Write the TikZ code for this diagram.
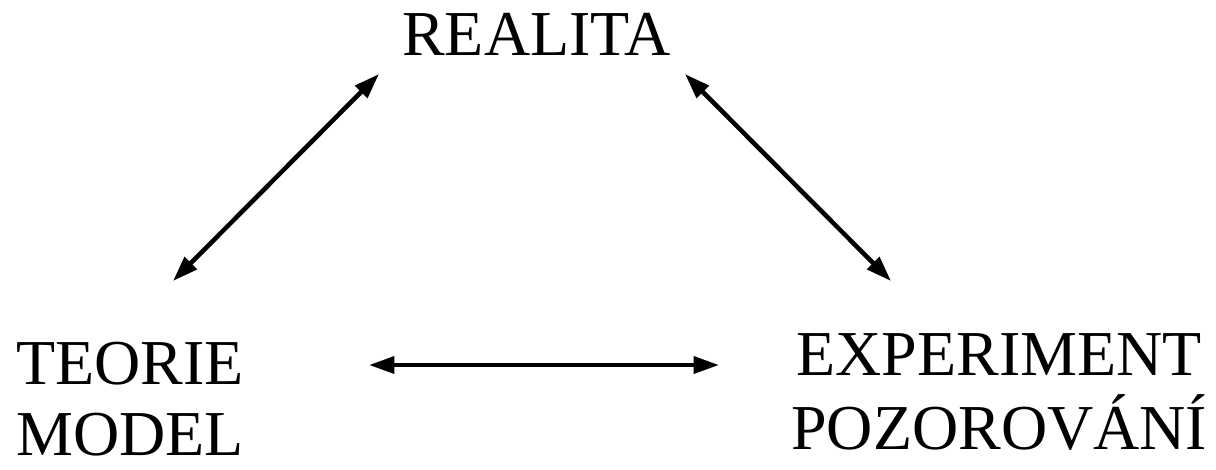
\documentclass[tikz,border=0pt]{standalone}
\usepackage{fontspec}
\setmainfont{Liberation Serif}
\usepackage{tikz}
\usetikzlibrary{arrows.meta,positioning}

\begin{document}
\begin{tikzpicture}[x=0.75pt, y=-0.75pt,
    lbl/.style={inner sep=0pt, align=center, font=\fontsize{48}{#1}\selectfont},
    lbl/.default=53,
    link/.style={line width=3.4pt, {Triangle[length=19pt,width=12.5pt]}-{Triangle[length=19pt,width=12.5pt]}},
]
    \useasboundingbox (0,0) rectangle (1216,469);

    \node[lbl, anchor=north west] (realita) at (402,13) {REALITA};
    \node[lbl, anchor=north west] (teorie) at (16,342) {TEORIE\\MODEL};
    \node[lbl=56, anchor=north west] (experiment) at (791,333) {EXPERIMENT\\POZOROVÁNÍ};

    \coordinate (tl) at (173,281);
    \coordinate (rl) at (379,74);
    \coordinate (rr) at (685,74);
    \coordinate (er) at (891,281);
    \coordinate (th) at (369,365);
    \coordinate (eh) at (719,365);

    \draw[link] (tl) -- (rl);
    \draw[link] (rr) -- (er);
    \draw[link] (th) -- (eh);
\end{tikzpicture}
\end{document}
